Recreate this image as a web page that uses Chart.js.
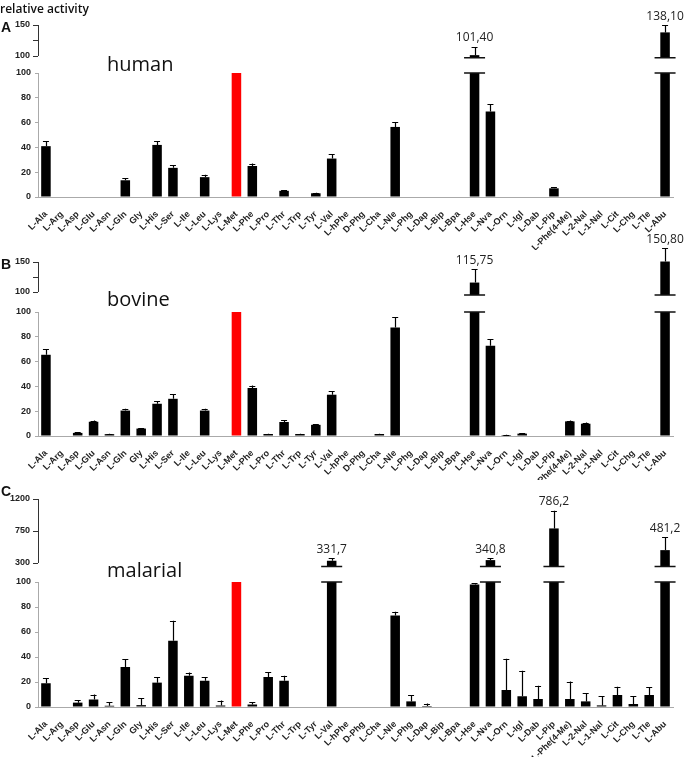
<!DOCTYPE html>
<html>
<head>
<meta charset="utf-8">
<script src="https://cdn.jsdelivr.net/npm/chart.js@4.4.1/dist/chart.umd.min.js"></script>
<style>
  body { margin: 0; background: #fff; width: 685px; height: 757px; position: relative; overflow: hidden; }
  canvas { position: absolute; left: 0; }
  .txt { position: absolute; white-space: nowrap; line-height: 1; color: #111; }
  .letter { font: bold 14px "Liberation Sans", Arial, sans-serif; }
  .species { font: 20px "Open Sans", sans-serif; }
</style>
</head>
<body>
<canvas id="chartA" width="685" height="250" style="top:0px"></canvas>
<canvas id="chartB" width="685" height="248" style="top:232px"></canvas>
<canvas id="chartC" width="685" height="287" style="top:470px"></canvas>

<div class="txt" style="left:0;top:0;font:600 12px 'Open Sans',sans-serif">relative activity</div>
<div class="txt letter" style="left:1px;top:19px">A</div>
<div class="txt letter" style="left:1px;top:256px">B</div>
<div class="txt letter" style="left:1px;top:483px">C</div>
<div class="txt species" style="left:107px;top:50px">human</div>
<div class="txt species" style="left:107px;top:285px">bovine</div>
<div class="txt species" style="left:107px;top:556px">malarial</div>

<script>
// amino acids on the x axis (same for all three panels)
const categories = ["L-Ala", "L-Arg", "L-Asp", "L-Glu", "L-Asn", "L-Gln", "Gly", "L-His", "L-Ser", "L-Ile",
  "L-Leu", "L-Lys", "L-Met", "L-Phe", "L-Pro", "L-Thr", "L-Trp", "L-Tyr", "L-Val", "L-hPhe",
  "D-Phg", "L-Cha", "L-Nle", "L-Phg", "L-Dap", "L-Bip", "L-Bpa", "L-Hse", "L-Nva", "L-Orn",
  "L-Igl", "L-Dab", "L-Pip", "L-Phe(4-Me)", "L-2-Nal", "L-1-Nal", "L-Cit", "L-Chg", "L-Tle", "L-Abu"];

// the reference substrate, drawn in red
const referenceCategory = "L-Met";

// A - human
const humanValues = [41, 0, 0, 0, 0, 13.5, 0, 42, 23.5, 0, 16, 0, 100, 25, 0, 5, 0, 3, 31, 0,
  0, 0, 56.5, 0, 0, 0, 0, 101.4, 69, 0, 0, 0, 7, 0, 0, 0, 0, 0, 0, 138.1];
const humanErrors = [4, 0, 0, 0, 0, 1.5, 0, 3, 2, 0, 2, 0, 0, 2, 0, 0.5, 0, 0.5, 3.5, 0,
  0, 0, 4, 0, 0, 0, 0, 13, 6, 0, 0, 0, 1, 0, 0, 0, 0, 0, 0, 11.5];
const humanUpperTicks = [100, 125, 150];
const humanUpperTickLabels = [100, 150];

// B - bovine
const bovineValues = [65.5, 0, 2.5, 11.5, 1.5, 20.5, 6, 26, 30, 0, 20.5, 0, 100, 38.7, 1.6, 11.3, 1.6, 9, 33.3, 0,
  0, 1.6, 87.6, 0, 0, 0, 0, 115.75, 72.8, 0.8, 1.9, 0, 0, 11.8, 9.9, 0, 0, 0, 0, 150.8];
const bovineErrors = [4.5, 0, 0.5, 1, 0.3, 1.5, 0.5, 2, 3.5, 0, 1.5, 0, 0, 2, 0.3, 1.3, 0.3, 0.5, 2.7, 0,
  0, 0.3, 8, 0, 0, 0, 0, 22, 5.4, 0.3, 0.5, 0, 0, 0.6, 0.9, 0, 0, 0, 0, 22];
const bovineUpperTicks = [100, 125, 150];
const bovineUpperTickLabels = [100, 150];

// C - malarial
const malarialValues = [19, 0, 3.5, 6, 1, 32, 1.5, 19.5, 53, 25, 21, 1.2, 100, 2, 24, 21, 0, 0, 331.7, 0,
  0, 0, 73.3, 4.5, 0.8, 0, 0, 98, 340.8, 13.6, 8.6, 6.4, 786.2, 6.4, 4.5, 1.3, 9.6, 2.4, 9.6, 481.2];
const malarialErrors = [4, 0, 2, 4, 3, 6.5, 5.5, 4.5, 16, 2.6, 3, 4, 0, 2, 4, 4, 0, 0, 33, 0,
  0, 0, 3, 5, 2, 0, 0, 1.3, 24, 25, 20.5, 10.7, 249, 14, 6.4, 7.3, 6.7, 6.2, 6.2, 179];
const malarialUpperTicks = [300, 525, 750, 975, 1200];
const malarialUpperTickLabels = [300, 750, 1200];

const lowerTop = 100;   // values above this are drawn broken
const tickFont = { family: "Liberation Sans", size: 9, weight: "bold" };

// draws error bars, axis line of the upper part, break marks and the numbers above broken bars
const extrasPlugin = {
  id: "extras",
  afterDatasetsDraw(chart, args, o) {
    const ctx = chart.ctx;
    const x = chart.scales.x, yLow = chart.scales.y, yUp = chart.scales.y2;
    ctx.save();
    // upper axis line, only between its first and last tick
    ctx.strokeStyle = "#333";
    ctx.lineWidth = 1;
    ctx.beginPath();
    ctx.moveTo(yUp.right + 0.5, yUp.getPixelForValue(o.upperTicks[0]));
    ctx.lineTo(yUp.right + 0.5, yUp.getPixelForValue(o.upperTicks[o.upperTicks.length - 1]));
    ctx.stroke();

    o.values.forEach((v, i) => {
      const px = x.getPixelForValue(i);
      const broken = v > lowerTop;
      const scale = broken ? yUp : yLow;
      const e = o.errors[i];
      let topPx = scale.getPixelForValue(v);
      if (e > 0) {
        const y1 = scale.getPixelForValue(v);
        const y2 = scale.getPixelForValue(v + e);
        ctx.strokeStyle = "#000";
        ctx.lineWidth = 1.2;
        ctx.beginPath();
        ctx.moveTo(Math.round(px) + 0.5, y1);
        ctx.lineTo(Math.round(px) + 0.5, y2);
        ctx.moveTo(px - 3, Math.round(y2) + 0.5);
        ctx.lineTo(px + 3, Math.round(y2) + 0.5);
        ctx.stroke();
        topPx = y2;
      }
      if (broken) {
        ctx.strokeStyle = "#111";
        ctx.lineWidth = 1.5;
        ctx.beginPath();
        const b1 = yLow.getPixelForValue(lowerTop);
        const b2 = yUp.getPixelForValue(o.upperBase);
        ctx.moveTo(px - 10.5, b1); ctx.lineTo(px + 10.5, b1);
        ctx.moveTo(px - 10.5, b2); ctx.lineTo(px + 10.5, b2);
        ctx.stroke();
        ctx.fillStyle = "#222";
        ctx.font = '12px "Open Sans"';
        ctx.textAlign = "center";
        ctx.textBaseline = "middle";
        ctx.fillText(v.toFixed(o.decimals).replace(".", ","), px, topPx - 9);
      }
    });
    ctx.restore();
  }
};

function makePanel(id, values, errors, upperTicks, upperTickLabels, geo) {
  const colors = categories.map(c => c === referenceCategory ? "rgb(255,0,0)" : "#000");
  const lowerData = values.map(v => Math.min(v, lowerTop));
  const upperData = values.map(v => v > lowerTop ? [geo.upperBase, v] : null);
  return new Chart(document.getElementById(id), {
    type: "bar",
    data: {
      labels: categories,
      datasets: [
        { data: lowerData, yAxisID: "y", backgroundColor: colors, barPercentage: 0.6, categoryPercentage: 1, grouped: false, clip: false },
        { data: upperData, yAxisID: "y2", backgroundColor: "#000", barPercentage: 0.6, categoryPercentage: 1, grouped: false, clip: false }
      ]
    },
    options: {
      responsive: false,
      animation: false,
      layout: { padding: { top: geo.padTop, right: 12, bottom: 0, left: 0 } },
      plugins: {
        legend: { display: false },
        tooltip: { enabled: false },
        extras: { values, errors, upperTicks, upperBase: geo.upperBase, decimals: geo.decimals }
      },
      scales: {
        x: {
          grid: { display: false },
          border: { color: "#aaa" },
          ticks: { autoSkip: false, minRotation: 45, maxRotation: 45, padding: 4, color: "#222", font: tickFont },
          afterFit: s => { s.height = geo.xHeight; }
        },
        y: {
          position: "left", stack: "panel", stackWeight: geo.lowerH,
          min: 0, max: 100,
          border: { color: "#aaa" },
          grid: { drawOnChartArea: false, tickLength: 3, color: "#aaa" },
          ticks: { stepSize: 20, padding: 4, color: "#222", font: tickFont },
          afterFit: s => { s.width = 38; }
        },
        y2: {
          position: "left", stack: "panel", stackWeight: geo.upperH,
          min: geo.upperMin, max: upperTicks[upperTicks.length - 1],
          border: { display: false },
          grid: { drawOnChartArea: false, tickLength: 5, color: "#333" },
          ticks: {
            padding: 3, color: "#222", font: tickFont,
            callback: v => upperTickLabels.includes(v) ? String(v) : ""
          },
          afterBuildTicks: s => { s.ticks = upperTicks.map(v => ({ value: v })); },
          afterFit: s => { s.width = 38; }
        }
      }
    },
    plugins: [extrasPlugin]
  });
}

makePanel("chartA", humanValues, humanErrors, humanUpperTicks, humanUpperTickLabels,
  { padTop: 25, xHeight: 53, upperH: 48, lowerH: 124, upperMin: 72.6, upperBase: 97, decimals: 2 });
makePanel("chartB", bovineValues, bovineErrors, bovineUpperTicks, bovineUpperTickLabels,
  { padTop: 30, xHeight: 44, upperH: 50, lowerH: 124, upperMin: 66.7, upperBase: 95, decimals: 2 });
makePanel("chartC", malarialValues, malarialErrors, malarialUpperTicks, malarialUpperTickLabels,
  { padTop: 29, xHeight: 50, upperH: 83, lowerH: 125, upperMin: 33, upperBase: 252, decimals: 1 });
</script>
</body>
</html>
